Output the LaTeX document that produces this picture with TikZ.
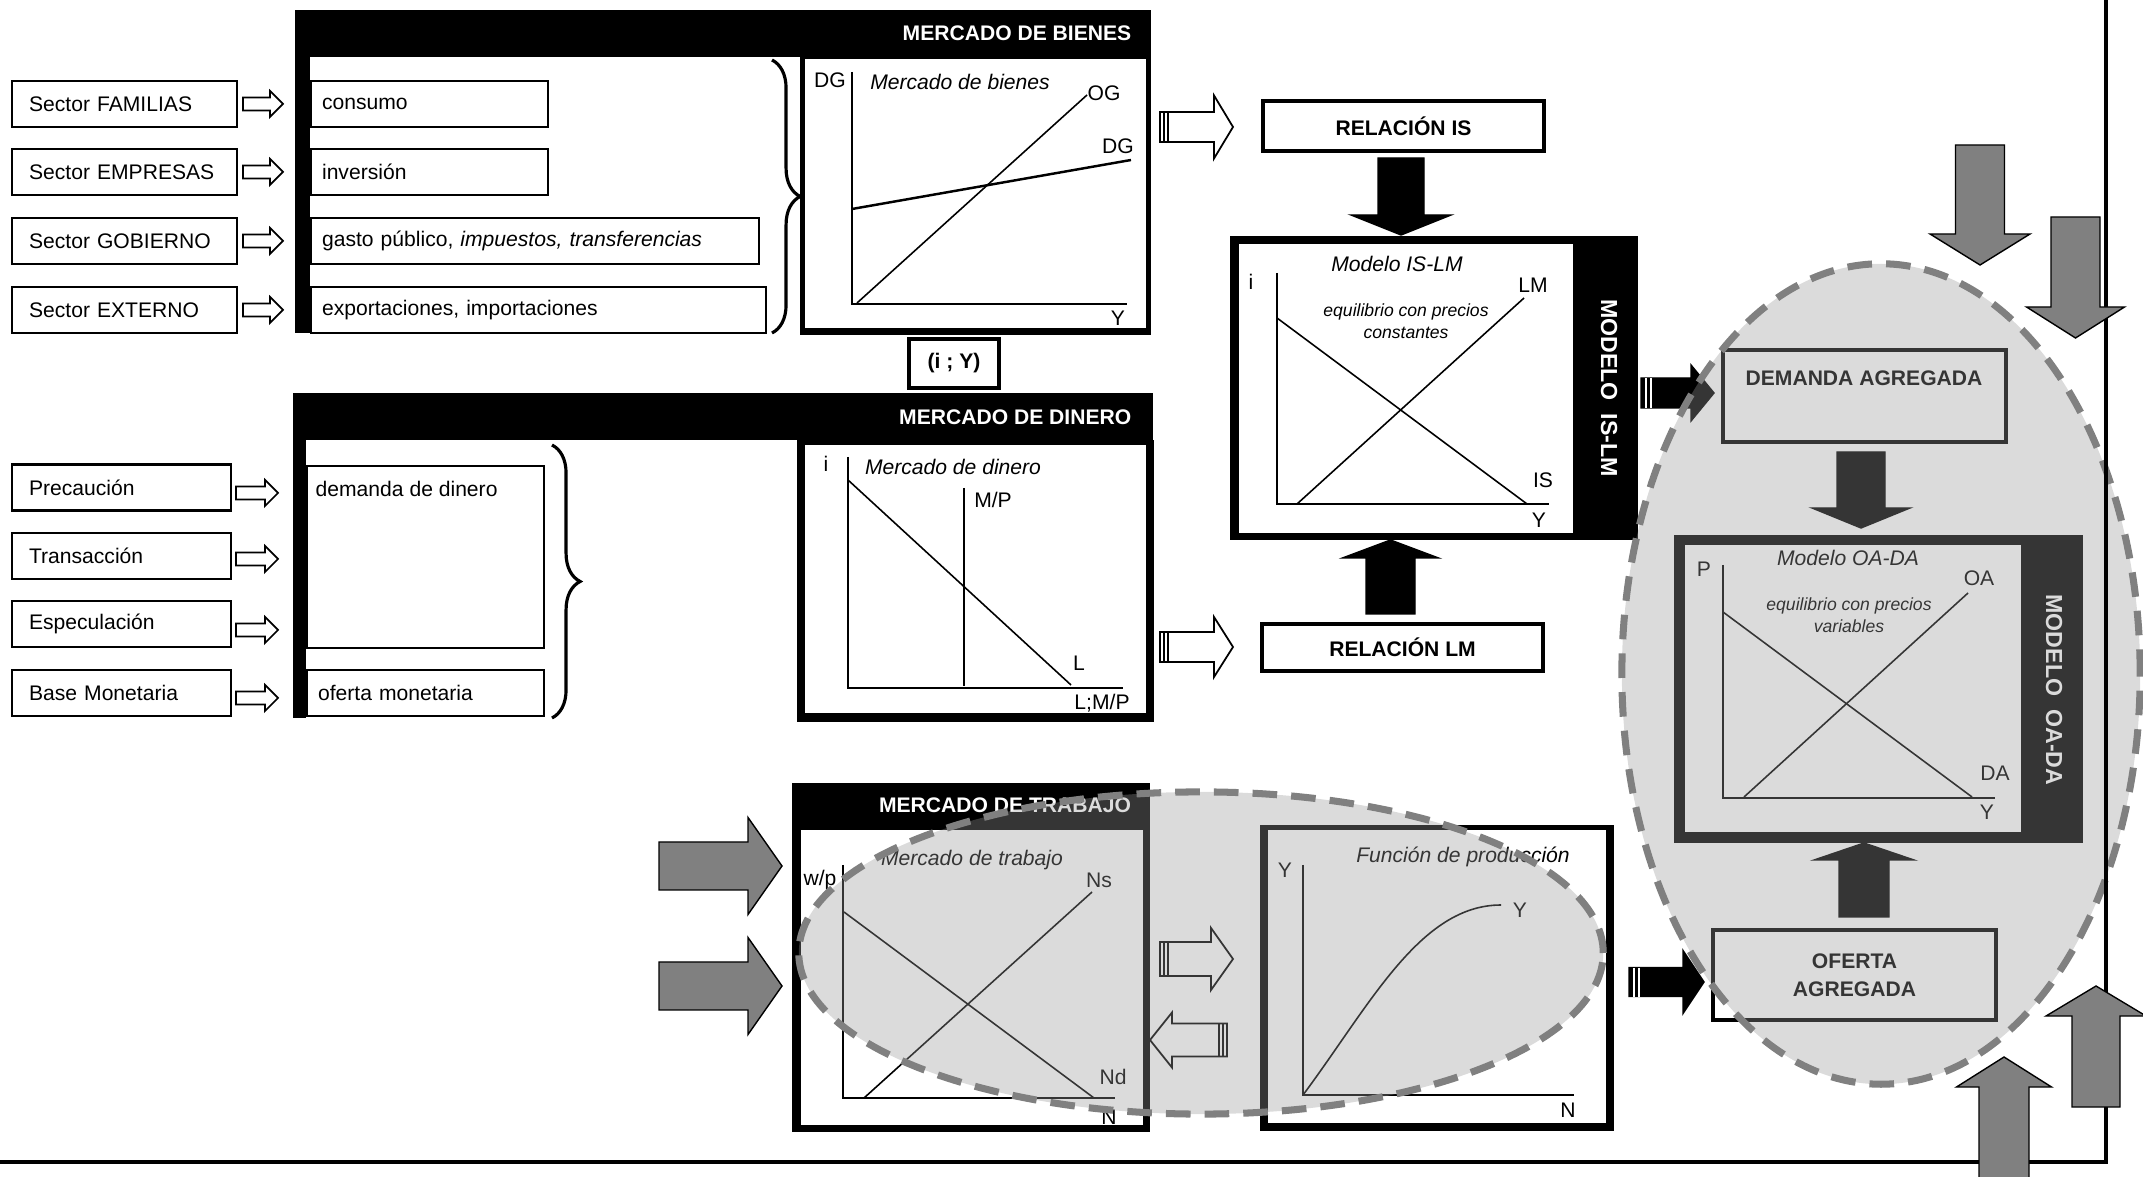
\documentclass[tikz,border=0pt]{standalone}
\usepackage{fontspec}
\setmainfont{Liberation Sans}
\usetikzlibrary{decorations.pathreplacing}

\newcommand{\six}{\fontsize{6}{7.2}\selectfont}
% block arrows: style, tail, tip, centre, half shaft, half head, head length
\newcommand{\blockH}[7]{\draw[#1] ({#2},{#4-#5}) -- ({#3-(#7)},{#4-#5}) -- ({#3-(#7)},{#4-#6}) -- ({#3},{#4}) -- ({#3-(#7)},{#4+#6}) -- ({#3-(#7)},{#4+#5}) -- ({#2},{#4+#5}) -- cycle;}
\newcommand{\blockV}[7]{\draw[#1] ({#4-#5},{#2}) -- ({#4-#5},{#3-(#7)}) -- ({#4-#6},{#3-(#7)}) -- ({#4},{#3}) -- ({#4+#6},{#3-(#7)}) -- ({#4+#5},{#3-(#7)}) -- ({#4+#5},{#2}) -- cycle;}

\tikzset{
  lbl/.style={inner sep=0pt, font=\six},
  ttl/.style={inner sep=0pt, font=\six\itshape},
  note/.style={inner sep=0pt, font=\fontsize{5}{6.3}\selectfont\itshape, align=center},
  hdr/.style={inner sep=0pt, text=white, font=\six\bfseries},
  tabtext/.style={inner sep=0pt, text=white, font=\fontsize{6.6}{8}\selectfont\bfseries, rotate=-90},
  sbox/.style={draw, line width=0.6pt, minimum height=0.46cm, inner xsep=0.17cm, inner ysep=0pt, align=left, font=\six, anchor=west},
  ibox/.style={sbox, inner xsep=0.11cm},
  rbox/.style={draw, line width=1pt, inner sep=0pt, align=center, font=\six\bfseries},
  axis/.style={line width=0.6pt},
  curve/.style={line width=0.45pt},
  hollow/.style={draw, fill=white, line width=0.5pt, line join=miter},
  blackarrow/.style={fill=black},
  greyarrow/.style={fill=black!50},
  zone/.style={fill=black!40, fill opacity=0.35, draw=black!50, line width=2pt, dash pattern=on 7pt off 4pt},
  brc/.style={decorate, decoration={brace, amplitude=8pt}, line width=0.9pt}
}

\begin{document}
\begin{tikzpicture}[x=0.01cm,y=-0.01cm]
\useasboundingbox (0,0) rectangle (2143,1177);

% ------ Mercado de bienes --------------
\fill (295,10) rectangle (1151,57);
\fill (295,57) rectangle (310,333);
\fill (800,57) rectangle (1151,335);
\fill[white] (805,59) rectangle (1146,328);
\node[hdr, anchor=east] (hbien) at (1132,33) {MERCADO DE BIENES};
\node[sbox, text width=1.91cm] (fam) at (11,104) {Sector FAMILIAS};
\node[sbox, text width=1.91cm] (emp) at (11,172) {Sector EMPRESAS};
\node[sbox, text width=1.91cm] (gob) at (11,241) {Sector GOBIERNO};
\node[sbox, text width=1.91cm] (ext) at (11,310) {Sector EXTERNO};
\node[ibox, text width=2.15cm] (cons) at (310,104) {consumo};
\node[ibox, text width=2.15cm] (inv) at (310,172) {inversión};
\node[ibox, text width=4.26cm] (gasto) at (310,241) {gasto público, \textit{impuestos, transferencias}};
\node[ibox, text width=4.33cm] (expo) at (310,310) {exportaciones, importaciones};
\foreach \y in {104,172,241,310} {\blockH{hollow}{243}{283}{\y}{6.5}{13}{13}}
\draw[brc] (772,60) -- (772,333);
\draw[axis] (852,72) -- (852,304) -- (1127,304);
\draw[curve] (857,303) -- (1087,95);
\draw[line width=0.7pt] (852,209) -- (1131,160);
\node[lbl] (bDG) at (830,80) {DG};
\node[ttl] (bT) at (960,82) {Mercado de bienes};
\node[lbl] (bOG) at (1104,93) {OG};
\node[lbl] (bDG2) at (1118,146) {DG};
\node[lbl] (bY) at (1118,318) {Y};

% ------ Relacion IS --------------
\blockH{hollow}{1160}{1233}{127}{15}{31.5}{19}
\draw (1164,112) -- (1164,142) (1168,112) -- (1168,142);
\node[rbox, minimum width=2.81cm, minimum height=0.5cm] (ris) at (1403.5,126) {RELACIÓN IS};
\blockV{blackarrow}{158}{235}{1401}{23}{50}{20}
\node[rbox, minimum width=0.9cm, minimum height=0.49cm] (iy) at (954,363.5) {(i ; Y)};

% ------ Modelo IS-LM --------------
\fill (1230,236) rectangle (1638,540);
\fill[white] (1239,244) rectangle (1573,533);
\node[tabtext] (tislm) at (1609,388) {MODELO\ \ IS-LM};
\draw[axis] (1277,273) -- (1277,504) -- (1549,504);
\draw[curve] (1277,318) -- (1527,504);
\draw[curve] (1297,504) -- (1524,298);
\node[ttl] (iT) at (1397,264) {Modelo IS-LM};
\node[lbl] (ii) at (1251,282) {i};
\node[lbl] (iLM) at (1533,285) {LM};
\node[note] (iEq) at (1406,321) {equilibrio con precios\\constantes};
\node[lbl] (iIS) at (1543,480) {IS};
\node[lbl] (iY) at (1539,520) {Y};

% ------ Relacion LM --------------
\blockV{blackarrow}{614}{540}{1390.5}{24.5}{48}{-18}
\node[rbox, minimum width=2.81cm, minimum height=0.47cm] (rlm) at (1402.5,647.5) {RELACIÓN LM};
\blockH{hollow}{1160}{1233}{647}{15}{30}{19}
\draw (1164,632) -- (1164,662) (1168,632) -- (1168,662);

% ------ Mercado de dinero --------------
\fill (293,393) rectangle (1153,440);
\fill (293,440) rectangle (306,718);
\fill (797,440) rectangle (1154,722);
\fill[white] (805,445) rectangle (1146,713);
\node[hdr, anchor=east] (hdin) at (1132,417) {MERCADO DE DINERO};
\node[sbox, text width=1.85cm] (prec) at (11,487.5) {Precaución};
\node[sbox, text width=1.85cm] (tran) at (11,556) {Transacción};
\node[sbox, text width=1.85cm] (espe) at (11,624) {Especulación};
\node[sbox, text width=1.85cm] (base) at (11,693) {Base Monetaria};
\node[draw, line width=0.6pt, minimum width=2.37cm, minimum height=1.82cm, inner sep=0pt, anchor=north west] (ddin) at (306,465) {};
\node[lbl, anchor=west] (ddint) at (315,489) {demanda de dinero};
\node[ibox, text width=2.15cm] (ofm) at (306,693) {oferta monetaria};
\foreach \y in {493,559,630,698} {\blockH{hollow}{236}{278}{\y}{6.5}{13}{13}}
\draw[brc] (552,445) -- (552,718);
\draw[axis] (848,457) -- (848,688) -- (1123,688);
\draw[curve] (848,480) -- (1071,685);
\draw[curve] (964,488) -- (964,686);
\node[lbl] (di) at (826,464) {i};
\node[ttl] (dT) at (953,467) {Mercado de dinero};
\node[lbl] (dMP) at (993,500) {M/P};
\node[lbl] (dL) at (1079,663) {L};
\node[lbl] (dLMP) at (1102,703) {L;M/P};

% ------ Mercado de trabajo --------------
\fill (792,783) rectangle (1150,1132);
\fill[white] (801,830) rectangle (1143,1125);
\node[hdr] (htra) at (1005,805) {MERCADO DE TRABAJO};
\draw[axis] (843,865) -- (843,1098) -- (1115,1098);
\draw[curve] (864,1098) -- (1092,892);
\draw[curve] (844,912) -- (1094,1098);
\node[lbl] (tw) at (820,880) {w/p};
\node[ttl] (tT) at (972,860) {Mercado de trabajo};
\node[lbl] (tNs) at (1099,880) {Ns};
\node[lbl] (tNd) at (1113,1077) {Nd};
\node[lbl] (tN) at (1109,1117) {N};
\blockH{greyarrow}{659}{782}{866}{24}{48.5}{34}
\blockH{greyarrow}{659}{782}{986}{24}{48.5}{34}
\blockH{hollow}{1160}{1233}{959}{17}{31}{22}
\draw (1164,942) -- (1164,976) (1168,942) -- (1168,976);
\blockH{hollow}{1227}{1150}{1040}{16.5}{27.5}{-22}
\draw (1223,1023.5) -- (1223,1056.5) (1219,1023.5) -- (1219,1056.5);

% ------ Funcion de produccion --------------
\fill (1260,825) rectangle (1614,1131);
\fill[white] (1268,830) rectangle (1606,1123);
\draw[axis] (1303,865) -- (1303,1095) -- (1574,1095);
\draw[curve] (1303,1095) .. controls (1370,1005) and (1420,905) .. (1501,905);
\node[lbl] (pY) at (1285,870) {Y};
\node[ttl] (pT) at (1463,857) {Función de producción};
\node[lbl] (pY2) at (1520,910) {Y};
\node[lbl] (pN) at (1568,1110) {N};

% ------ Modelo OA-DA --------------
\blockH{blackarrow}{1641}{1714}{393}{15}{28}{23}
\draw[white, line width=0.6pt] (1646,378) -- (1646,408) (1651,378) -- (1651,408);
\node[draw, line width=1.3pt, minimum width=2.83cm, minimum height=0.92cm, inner sep=0pt] (dag) at (1864.5,396) {};
\node[lbl, font=\six\bfseries] (dagt) at (1864,378) {DEMANDA AGREGADA};
\blockV{blackarrow}{452}{528}{1861}{24}{49}{20}
\fill (1674,535) rectangle (2083,843);
\fill[white] (1685,545) rectangle (2021,832);
\node[tabtext] (toada) at (2054,690) {MODELO\ \ OA-DA};
\draw[axis] (1723,565) -- (1723,798) -- (1995,798);
\draw[curve] (1744,797) -- (1968,593);
\draw[curve] (1723,612) -- (1972,797);
\node[ttl] (oT) at (1848,558) {Modelo OA-DA};
\node[lbl] (oP) at (1704,569) {P};
\node[lbl] (oOA) at (1979,578) {OA};
\node[note] (oEq) at (1849,615) {equilibrio con precios\\variables};
\node[lbl] (oDA) at (1995,773) {DA};
\node[lbl] (oY) at (1987,812) {Y};
\blockV{blackarrow}{917}{843}{1864}{25}{50}{-17}
\node[rbox, line width=1.3pt, minimum width=2.83cm, minimum height=0.9cm, font=\fontsize{6}{8}\selectfont\bfseries] (oag) at (1854.5,975) {OFERTA\\AGREGADA};
\blockH{blackarrow}{1629}{1704}{982}{14.5}{31.5}{21}
\draw[white, line width=0.6pt] (1634,968) -- (1634,997) (1639,968) -- (1639,997);

% ------ Zonas --------------
\draw[zone] (1201,953) ellipse [x radius=4.02cm, y radius=1.61cm];
\draw[zone] (1881,674) ellipse [x radius=2.59cm, y radius=4.1cm];

% ------ Marco --------------
\draw[line width=1.4pt] (0,1162) -- (2106,1162) -- (2106,0);
\blockV{greyarrow}{145}{265}{1980}{24.5}{50}{31}
\blockV{greyarrow}{217}{338}{2075.5}{24.5}{49}{31}
\blockV{greyarrow}{1107}{986}{2096}{24}{50}{-30}
\blockV{greyarrow}{1180}{1057}{2004}{25}{47.5}{-30}
\end{tikzpicture}
\end{document}
